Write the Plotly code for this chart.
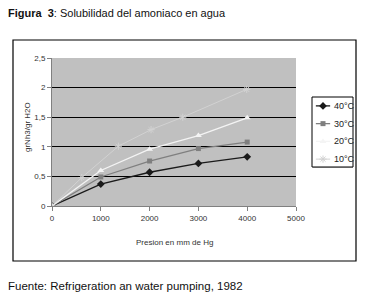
import plotly.graph_objects as go

# Data
x_std = [0, 1000, 2000, 3000, 4000]
y_40 = [0, 0.37, 0.57, 0.72, 0.83]
y_30 = [0, 0.49, 0.76, 0.97, 1.08]
y_20 = [0, 0.60, 0.96, 1.19, 1.49]
x_10 = [0, 610, 1360, 2030, 2680, 3990]
y_10 = [0, 0.48, 1.01, 1.29, 1.50, 1.97]
series_names = ["40°C", "30°C", "20°C", "10°C"]
y_ticks = [0, 0.5, 1, 1.5, 2, 2.5]
y_ticklabels = ["0", "0,5", "1", "1,5", "2", "2,5"]
x_ticks = [0, 1000, 2000, 3000, 4000, 5000]

W, H = 365, 298
L, R, T, B = 52, 296, 58, 206
FONT = "Liberation Sans Narrow, Arial Narrow, Liberation Sans, Arial, sans-serif"

def fx(x):
    return x / W

def fy(y):
    return (H - y) / H

styles = [
    dict(line=dict(color="#1a1a1a", width=1.3),
         marker=dict(symbol="diamond", size=6, color="#1a1a1a")),
    dict(line=dict(color="#7f7f7f", width=1.3),
         marker=dict(symbol="square", size=5, color="#7f7f7f")),
    dict(line=dict(color="#f4f4f4", width=1.3),
         marker=dict(symbol="triangle-up", size=6, color="#f4f4f4")),
    dict(line=dict(color="#d2d2d2", width=1),
         marker=dict(symbol="asterisk-open", size=6, color="#d2d2d2",
                     line=dict(color="#d2d2d2", width=1))),
]
xs = [x_std, x_std, x_std, x_10]
ys = [y_40, y_30, y_20, y_10]

fig = go.Figure()
for name, x, y, st in zip(series_names, xs, ys, styles):
    fig.add_trace(go.Scatter(x=x, y=y, name=name, mode="lines+markers",
                             showlegend=False, xaxis="x", yaxis="y", **st))

# Legend samples on their own small axis (inside the legend box)
for i, (name, st) in enumerate(zip(series_names, styles)):
    fig.add_trace(go.Scatter(x=[0, 1], y=[i + 0.5, i + 0.5], mode="lines",
                             line=st["line"], showlegend=False, hoverinfo="skip",
                             xaxis="x2", yaxis="y2"))
    fig.add_trace(go.Scatter(x=[0.5], y=[i + 0.5], mode="markers",
                             marker=st["marker"], showlegend=False,
                             hoverinfo="skip", xaxis="x2", yaxis="y2"))
    fig.add_annotation(xref="x2", yref="y2", x=1.1, y=i + 0.5, text=name,
                       xanchor="left", yanchor="middle", showarrow=False,
                       font=dict(family=FONT, size=9, color="#222222"))

fig.update_layout(
    width=W, height=H,
    margin=dict(l=0, r=0, t=0, b=0, pad=0, autoexpand=False),
    paper_bgcolor="white",
    plot_bgcolor="#c0c0c0",
    font=dict(family=FONT, size=8, color="#333333"),
    showlegend=False,
    xaxis=dict(domain=[fx(L), fx(R)], range=[0, 5000], tickvals=x_ticks,
               ticks="outside", ticklen=4,
               tickcolor="#808080", showline=True, linecolor="#808080",
               showgrid=False, zeroline=False, tickfont=dict(size=8, color="#333333"),
               fixedrange=True),
    yaxis=dict(domain=[fy(B), fy(T)], range=[0, 2.5], tickvals=y_ticks,
               ticktext=y_ticklabels,
               ticks="outside", ticklen=4, tickcolor="#808080",
               showline=True, linecolor="#808080", showgrid=True,
               gridcolor="black", gridwidth=1, zeroline=False,
               tickfont=dict(size=8, color="#333333"), fixedrange=True),
    xaxis2=dict(domain=[fx(313), fx(353)], range=[-0.2, 2.6], visible=False,
                fixedrange=True),
    yaxis2=dict(domain=[fy(168), fy(97)], range=[4, 0], visible=False,
                fixedrange=True),
)

# Outer chart border
fig.add_shape(type="rect", xref="paper", yref="paper",
              x0=fx(13), x1=fx(356), y0=fy(261), y1=fy(40),
              line=dict(color="black", width=1.2), fillcolor="rgba(0,0,0,0)",
              layer="below")
# Legend border
fig.add_shape(type="rect", xref="paper", yref="paper",
              x0=fx(312), x1=fx(353), y0=fy(167), y1=fy(97),
              line=dict(color="black", width=1), fillcolor="white",
              layer="below")

# Axis titles
fig.add_annotation(xref="paper", yref="paper", x=fx(174), y=fy(242),
                   text="Presion en mm de Hg", showarrow=False,
                   xanchor="center", yanchor="middle",
                   font=dict(family=FONT, size=8, color="#333333"))
fig.add_annotation(xref="paper", yref="paper", x=fx(27), y=fy(127),
                   text="grNh3/gr H2O", showarrow=False, textangle=-90,
                   xanchor="center", yanchor="middle",
                   font=dict(family=FONT, size=8, color="#333333"))

fig.add_annotation(xref="paper", yref="paper", x=fx(6), y=fy(13),
                   xanchor="left", yanchor="middle", showarrow=False,
                   text="<b>Figura  3</b>: Solubilidad del amoniaco en agua",
                   font=dict(family=FONT, size=11, color="#111111"))
fig.add_annotation(xref="paper", yref="paper", x=fx(6), y=fy(286),
                   xanchor="left", yanchor="middle", showarrow=False,
                   text="Fuente: Refrigeration an water pumping, 1982",
                   font=dict(family=FONT, size=11.5, color="#111111"))

fig.write_html("out.html", config={"displayModeBar": False},
               post_script="document.body.style.margin='0px';")
